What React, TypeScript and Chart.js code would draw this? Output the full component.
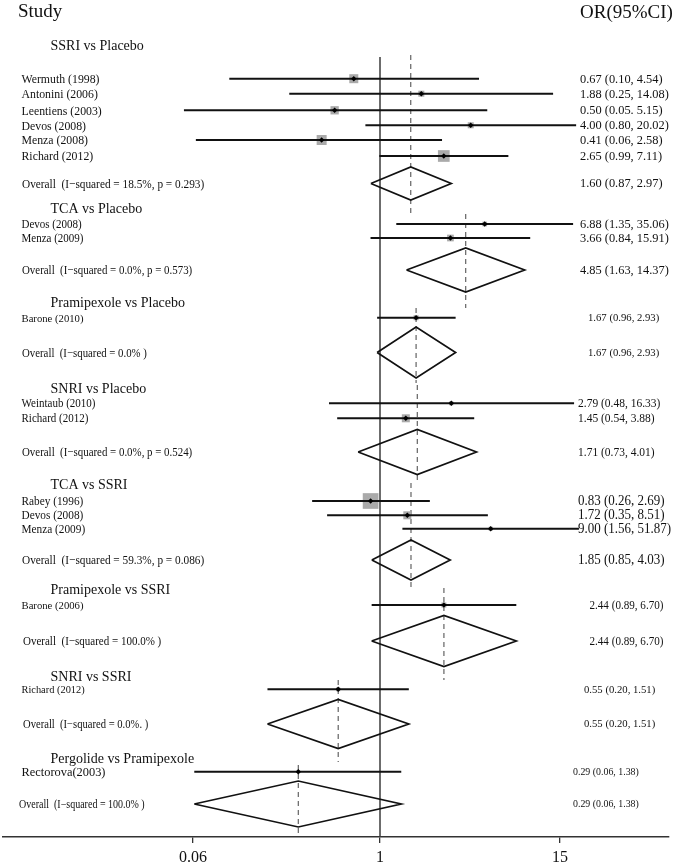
import React, { useEffect, useRef } from "react";
import { Chart, registerables } from "chart.js";
Chart.register(...registerables);

// ---------------- DATA ----------------
const groupTitles = [
  "SSRI vs Placebo",
  "TCA vs Placebo",
  "Pramipexole vs Placebo",
  "SNRI vs Placebo",
  "TCA vs SSRI",
  "Pramipexole vs SSRI",
  "SNRI vs SSRI",
  "Pergolide vs Pramipexole",
];

const studyNames = [
  "Wermuth (1998)", "Antonini (2006)", "Leentiens (2003)", "Devos (2008)", "Menza (2008)", "Richard (2012)",
  "Devos (2008)", "Menza (2009)",
  "Barone (2010)",
  "Weintaub (2010)", "Richard (2012)",
  "Rabey (1996)", "Devos (2008)", "Menza (2009)",
  "Barone (2006)",
  "Richard (2012)",
  "Rectorova(2003)",
];
const studyGroup = [0, 0, 0, 0, 0, 0, 1, 1, 2, 3, 3, 4, 4, 4, 5, 6, 7];
const studyOR = [0.67, 1.88, 0.5, 4.0, 0.41, 2.65, 6.88, 3.66, 1.67, 2.79, 1.45, 0.83, 1.72, 9.0, 2.44, 0.55, 0.29];
const studyLow = [0.1, 0.25, 0.05, 0.8, 0.06, 0.99, 1.35, 0.84, 0.96, 0.48, 0.54, 0.26, 0.35, 1.56, 0.89, 0.2, 0.06];
const studyHigh = [4.54, 14.08, 5.15, 20.02, 2.58, 7.11, 35.06, 15.91, 2.93, 16.33, 3.88, 2.69, 8.51, 51.87, 6.7, 1.51, 1.38];
const studyText = [
  "0.67 (0.10, 4.54)", "1.88 (0.25, 14.08)", "0.50 (0.05. 5.15)", "4.00 (0.80, 20.02)", "0.41 (0.06, 2.58)", "2.65 (0.99, 7.11)",
  "6.88 (1.35, 35.06)", "3.66 (0.84, 15.91)",
  "1.67 (0.96, 2.93)",
  "2.79 (0.48, 16.33)", "1.45 (0.54, 3.88)",
  "0.83 (0.26, 2.69)", "1.72 (0.35, 8.51)", "9.00 (1.56, 51.87)",
  "2.44 (0.89, 6.70)",
  "0.55 (0.20, 1.51)",
  "0.29 (0.06, 1.38)",
];

const overallLabels = [
  "Overall  (I\u2212squared = 18.5%, p = 0.293)",
  "Overall  (I\u2212squared = 0.0%, p = 0.573)",
  "Overall  (I\u2212squared = 0.0% )",
  "Overall  (I\u2212squared = 0.0%, p = 0.524)",
  "Overall  (I\u2212squared = 59.3%, p = 0.086)",
  "Overall  (I\u2212squared = 100.0% )",
  "Overall  (I\u2212squared = 0.0%. )",
  "Overall  (I\u2212squared = 100.0% )",
];
const overallOR = [1.6, 4.85, 1.67, 1.71, 1.85, 2.44, 0.55, 0.29];
const overallLow = [0.87, 1.63, 0.96, 0.73, 0.85, 0.89, 0.2, 0.06];
const overallHigh = [2.97, 14.37, 2.93, 4.01, 4.03, 6.7, 1.51, 1.38];
const overallText = [
  "1.60 (0.87, 2.97)", "4.85 (1.63, 14.37)", "1.67 (0.96, 2.93)", "1.71 (0.73, 4.01)",
  "1.85 (0.85, 4.03)", "2.44 (0.89, 6.70)", "0.55 (0.20, 1.51)", "0.29 (0.06, 1.38)",
];

const axisTicks = [0.06, 1, 15];
const axisTickLabels = ["0.06", "1", "15"];
const nullValue = 1;

// ---------------- LAYOUT / STYLE ----------------
const W = 674;
const H = 866;
const FONT = '"Liberation Serif", "Times New Roman", Times, serif';
const AREA_LEFT = 3;
const AREA_RIGHT = 669;
const AXIS_Y = 837;
const NULL_PX = 380;
const LAYOUT = {
  studyY: [78.7, 93.7, 110.3, 125.3, 140, 156, 224, 238, 317.7, 403.3, 418.3, 501, 515.3, 528.7, 605, 689.3, 771.7],
  boxSide: [9, 6, 8.3, 6, 10, 11.7, 4.7, 6.7, 5, 4, 8, 15.7, 8, 4, 5, 4, 3],
  overallY: [183.5, 270, 352.5, 452, 560, 641, 724, 804],
  diamondHalf: [16.5, 22, 25.5, 22.5, 20, 25.5, 24.5, 23],
  headerY: [46, 209, 303, 389, 485, 590, 677, 759],
  dashTop: [55, 214, 308, 385, 483, 588, 680, 765],
  dashBottom: [213, 308, 383, 482, 587, 680, 762, 837],
  decadePx: [150.7, 125, 162, 160, 116, 165, 161, 152],
  axisDecadePx: 153,
  nullTop: 57,
  studyFont: [11.8, 11, 10.7, 11, 11.3, 10.7, 10.4, 12.4],
  overallFont: [11.3, 10.9, 10.8, 10.9, 11.3, 11.0, 10.6, 10.0],
  rightFont: [12.4, 12.4, 10.7, 11.5, 13, 11.1, 10.7, 9.9],
  rightX: [580, 580, 588, 578, 578, 589.5, 584, 573],
  overallX: [22, 22, 22, 22, 22, 23, 23, 19],
  overallStretch: 1.15,
};

const logRange = (pxPerDecade: number) => ({
  min: Math.pow(10, -(NULL_PX - AREA_LEFT) / pxPerDecade),
  max: Math.pow(10, (AREA_RIGHT - NULL_PX) / pxPerDecade),
});

const textPlugin = {
  id: "forestText",
  afterDraw(chart: any) {
    const ctx = chart.ctx as CanvasRenderingContext2D;
    const ys = chart.scales.y;
    const py = (v: number) => ys.getPixelForValue(v);
    ctx.save();
    ctx.fillStyle = "#111";
    ctx.textAlign = "left";
    ctx.textBaseline = "middle";
    const f = (s: number) => `${s}px ${FONT}`;
    const condensed = (t: string, x: number, y: number, size: number, stretch: number) => {
      ctx.font = f(size);
      const w = ctx.measureText(t).width;
      ctx.font = f(size * stretch);
      ctx.fillText(t, x, y, w);
    };
    ctx.font = f(19);
    ctx.fillText("Study", 18, py(12));
    ctx.fillText("OR(95%CI)", 580, py(13));
    groupTitles.forEach((t, g) => {
      ctx.font = f(14);
      ctx.fillText(t, 50.5, py(LAYOUT.headerY[g]));
    });
    studyNames.forEach((n, i) => {
      const g = studyGroup[i];
      condensed(n, 21.5, py(LAYOUT.studyY[i] + 1), LAYOUT.studyFont[g], 1.04);
      condensed(studyText[i], LAYOUT.rightX[g], py(LAYOUT.studyY[i] + 0.5), LAYOUT.rightFont[g], 1.06);
    });
    overallLabels.forEach((n, g) => {
      condensed(n, LAYOUT.overallX[g], py(LAYOUT.overallY[g] + 1), LAYOUT.overallFont[g], LAYOUT.overallStretch);
      condensed(overallText[g], LAYOUT.rightX[g], py(LAYOUT.overallY[g] + 0.5), LAYOUT.rightFont[g], 1.06);
    });
    ctx.restore();
  },
};

export default function App() {
  const ref = useRef<HTMLCanvasElement | null>(null);

  useEffect(() => {
    document.body.style.margin = "0";
    const canvas = ref.current;
    if (!canvas) return;

    const datasets: any[] = [];
    const scales: any = {};

    const mainRange = logRange(LAYOUT.axisDecadePx);
    scales.x = {
      type: "logarithmic",
      position: "bottom",
      min: mainRange.min,
      max: mainRange.max,
      afterBuildTicks: (scale: any) => {
        scale.ticks = axisTicks.map((v) => ({ value: v }));
      },
      afterFit: (scale: any) => {
        scale.height = H - AXIS_Y;
      },
      ticks: {
        autoSkip: false,
        maxRotation: 0,
        padding: 5,
        color: "#111",
        font: { family: FONT, size: 16 },
        callback: (v: any) => {
          const k = axisTicks.indexOf(Number(v));
          return k >= 0 ? axisTickLabels[k] : "";
        },
      },
      grid: { display: true, drawOnChartArea: false, drawTicks: true, tickLength: 6, color: "#333", lineWidth: 1.3 },
      border: { display: true, color: "#333", width: 1.5 },
    };
    scales.y = { type: "linear", display: false, min: 0, max: AXIS_Y, reverse: true };

    groupTitles.forEach((_, g) => {
      const r = logRange(LAYOUT.decadePx[g]);
      scales["g" + g] = { type: "logarithmic", display: false, position: "bottom", min: r.min, max: r.max };
    });

    // reference line at OR = 1
    datasets.push({
      type: "line",
      xAxisID: "x",
      yAxisID: "y",
      data: [
        { x: nullValue, y: LAYOUT.nullTop },
        { x: nullValue, y: AXIS_Y },
      ],
      borderColor: "#3c3c3c",
      borderWidth: 1.5,
      pointRadius: 0,
      order: 5,
    });

    groupTitles.forEach((_, g) => {
      const ax = "g" + g;
      const idx = studyGroup.map((sg, i) => (sg === g ? i : -1)).filter((i) => i >= 0);
      // dashed pooled-estimate line
      datasets.push({
        type: "line",
        xAxisID: ax,
        yAxisID: "y",
        data: [
          { x: overallOR[g], y: LAYOUT.dashTop[g] },
          { x: overallOR[g], y: LAYOUT.dashBottom[g] },
        ],
        borderColor: "#555",
        borderWidth: 1.1,
        borderDash: [5, 4],
        pointRadius: 0,
        order: 4,
      });
      // weight boxes
      datasets.push({
        type: "scatter",
        xAxisID: ax,
        yAxisID: "y",
        data: idx.map((i) => ({ x: studyOR[i], y: LAYOUT.studyY[i] })),
        pointStyle: "rect",
        pointRadius: idx.map((i) => LAYOUT.boxSide[i] / Math.SQRT2),
        backgroundColor: "#aaaaaa",
        borderWidth: 0,
        order: 3,
      });
      // confidence intervals
      idx.forEach((i) => {
        datasets.push({
          type: "line",
          xAxisID: ax,
          yAxisID: "y",
          data: [
            { x: studyLow[i], y: LAYOUT.studyY[i] },
            { x: studyHigh[i], y: LAYOUT.studyY[i] },
          ],
          borderColor: "#111",
          borderWidth: 1.9,
          pointRadius: 0,
          order: 2,
        });
      });
      // point estimates
      datasets.push({
        type: "scatter",
        xAxisID: ax,
        yAxisID: "y",
        data: idx.map((i) => ({ x: studyOR[i], y: LAYOUT.studyY[i] })),
        pointStyle: "rectRot",
        pointRadius: 2.7,
        backgroundColor: "#000",
        borderWidth: 0,
        order: 1,
      });
      // pooled diamond
      const yc = LAYOUT.overallY[g];
      const h = LAYOUT.diamondHalf[g];
      datasets.push({
        type: "line",
        xAxisID: ax,
        yAxisID: "y",
        data: [
          { x: overallLow[g], y: yc },
          { x: overallOR[g], y: yc - h },
          { x: overallHigh[g], y: yc },
          { x: overallOR[g], y: yc + h },
          { x: overallLow[g], y: yc },
        ],
        borderColor: "#111",
        borderWidth: 1.7,
        borderJoinStyle: "miter",
        fill: false,
        tension: 0,
        pointRadius: 0,
        order: 2,
      });
    });

    const chart = new Chart(canvas, {
      type: "line",
      data: { datasets },
      options: {
        responsive: false,
        animation: false,
        events: [],
        layout: { autoPadding: false, padding: { left: AREA_LEFT, right: W - AREA_RIGHT, top: 0, bottom: 0 } },
        plugins: { legend: { display: false }, tooltip: { enabled: false }, title: { display: false } },
        scales,
      },
      plugins: [textPlugin],
    } as any);

    return () => chart.destroy();
  }, []);

  return <canvas ref={ref} width={W} height={H} style={{ display: "block" }} />;
}
